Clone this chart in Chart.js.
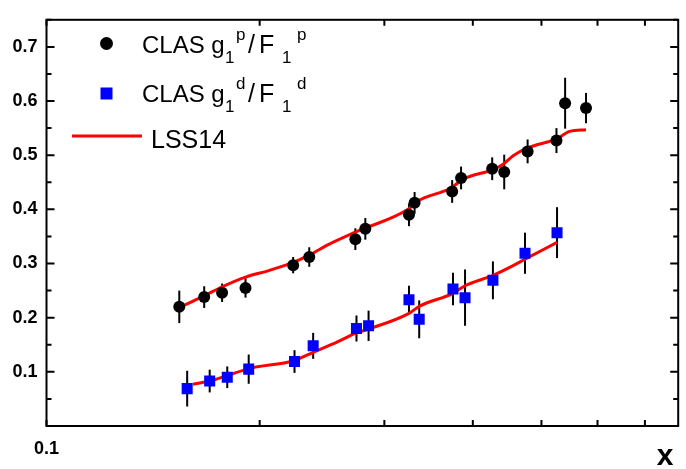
<!DOCTYPE html>
<html>
<head>
<meta charset="utf-8">
<script src="https://cdn.jsdelivr.net/npm/chart.js@4.4.0/dist/chart.umd.min.js"></script>
<style>
body { margin: 0; background: #fff; }
</style>
</head>
<body>
<canvas id="g1f1" width="686" height="469"></canvas>
<script>
// CLAS proton
var protonX = [0.154, 0.167, 0.177, 0.191, 0.223, 0.235, 0.273, 0.282, 0.325, 0.331, 0.374, 0.385, 0.426, 0.443, 0.478, 0.525, 0.540, 0.578];
var protonY = [0.220, 0.238, 0.246, 0.255, 0.297, 0.312, 0.345, 0.364, 0.390, 0.412, 0.433, 0.458, 0.475, 0.469, 0.507, 0.527, 0.596, 0.587];
var protonErr = [0.030, 0.020, 0.017, 0.018, 0.015, 0.018, 0.020, 0.020, 0.021, 0.020, 0.021, 0.021, 0.021, 0.032, 0.022, 0.023, 0.047, 0.028];

// CLAS deuteron
var deutX = [0.158, 0.170, 0.180, 0.193, 0.224, 0.238, 0.274, 0.285, 0.325, 0.336, 0.375, 0.390, 0.427, 0.474, 0.526];
var deutY = [0.069, 0.083, 0.090, 0.105, 0.119, 0.148, 0.180, 0.185, 0.233, 0.197, 0.253, 0.237, 0.269, 0.319, 0.357];
var deutErr = [0.033, 0.021, 0.020, 0.027, 0.021, 0.024, 0.024, 0.028, 0.026, 0.035, 0.030, 0.052, 0.035, 0.038, 0.047];

// LSS14 curves
var lssPX = [0.1565, 0.168, 0.177, 0.191, 0.206, 0.222, 0.236, 0.250, 0.274, 0.324, 0.334, 0.372, 0.388, 0.428, 0.442, 0.456, 0.479, 0.525, 0.548, 0.578];
var lssPY = [0.223, 0.242, 0.257, 0.275, 0.287, 0.301, 0.317, 0.335, 0.359, 0.400, 0.415, 0.439, 0.456, 0.474, 0.484, 0.499, 0.514, 0.530, 0.544, 0.547];
var lssDX = [0.161, 0.170, 0.180, 0.193, 0.224, 0.238, 0.258, 0.274, 0.285, 0.325, 0.336, 0.375, 0.390, 0.427, 0.456, 0.474, 0.526];
var lssDY = [0.077, 0.083, 0.093, 0.106, 0.121, 0.136, 0.156, 0.172, 0.179, 0.208, 0.221, 0.245, 0.259, 0.278, 0.296, 0.308, 0.339];

var xTicks = [0.1, 0.2, 0.3, 0.4, 0.5, 0.6, 0.7];
var yTicks = [0.1, 0.2, 0.3, 0.4, 0.5, 0.6, 0.7];
var yMinor = [0.05, 0.15, 0.25, 0.35, 0.45, 0.55, 0.65, 0.75];

var FONT = "'Liberation Sans', Arial, sans-serif";

function pts(xs, ys) {
    return xs.map(function(x, i) { return { x: x, y: ys[i] }; });
}

var errorBars = {
    id: 'errorBars',
    beforeDatasetsDraw: function(chart) {
        var ctx = chart.ctx, sx = chart.scales.x, sy = chart.scales.y;
        ctx.save();
        ctx.strokeStyle = '#000';
        ctx.lineWidth = 2;
        [[protonX, protonY, protonErr], [deutX, deutY, deutErr]].forEach(function(s) {
            for (var i = 0; i < s[0].length; i++) {
                var px = sx.getPixelForValue(s[0][i]);
                ctx.beginPath();
                ctx.moveTo(px, sy.getPixelForValue(s[1][i] - s[2][i]));
                ctx.lineTo(px, sy.getPixelForValue(s[1][i] + s[2][i]));
                ctx.stroke();
            }
        });
        ctx.restore();
    }
};

// text pieces: [text, size, x, baseline offset]
function rich(ctx, y, parts) {
    parts.forEach(function(p) {
        ctx.font = p[1] + 'px ' + FONT;
        ctx.fillText(p[0], p[2], y + p[3]);
    });
}

var frame = {
    id: 'frame',
    afterDatasetsDraw: function(chart) {
        var ctx = chart.ctx, a = chart.chartArea, sx = chart.scales.x, sy = chart.scales.y;
        ctx.save();
        ctx.strokeStyle = '#000';
        ctx.lineWidth = 2;
        ctx.strokeRect(a.left, a.top, a.right - a.left, a.bottom - a.top);
        ctx.beginPath();
        xTicks.forEach(function(v) {
            var px = sx.getPixelForValue(v);
            ctx.moveTo(px, a.bottom); ctx.lineTo(px, a.bottom - 6);
            ctx.moveTo(px, a.top); ctx.lineTo(px, a.top + 6);
        });
        yTicks.forEach(function(v) {
            var py = sy.getPixelForValue(v);
            ctx.moveTo(a.left, py); ctx.lineTo(a.left + 8, py);
            ctx.moveTo(a.right, py); ctx.lineTo(a.right - 8, py);
        });
        yMinor.forEach(function(v) {
            var py = sy.getPixelForValue(v);
            ctx.moveTo(a.left, py); ctx.lineTo(a.left + 5, py);
            ctx.moveTo(a.right, py); ctx.lineTo(a.right - 5, py);
        });
        ctx.stroke();

        // legend
        ctx.fillStyle = '#000';
        ctx.beginPath();
        ctx.arc(106.5, 43.5, 6.5, 0, Math.PI * 2);
        ctx.fill();
        ctx.fillStyle = '#0000ff';
        ctx.fillRect(100.5, 87.5, 12, 12);
        ctx.strokeStyle = '#ff0000';
        ctx.lineWidth = 3;
        ctx.beginPath();
        ctx.moveTo(72, 136); ctx.lineTo(142, 136);
        ctx.stroke();
        ctx.fillStyle = '#000';
        ctx.textAlign = 'left';
        ctx.textBaseline = 'alphabetic';
        rich(ctx, 53, [['CLAS g', 24, 142, 0], ['1', 17, 225, 10], ['p', 17, 236, -13], ['/', 25, 248, 0], ['F', 25, 259, 0], ['1', 17, 282, 10], ['p', 17, 297, -13]]);
        rich(ctx, 102, [['CLAS g', 24, 142, 0], ['1', 17, 225, 10], ['d', 17, 236, -13], ['/', 25, 248, 0], ['F', 25, 259, 0], ['1', 17, 282, 10], ['d', 17, 297, -13]]);
        rich(ctx, 148, [['LSS14', 25, 151, 0]]);

        // axis title
        ctx.font = 'bold 30px ' + FONT;
        ctx.textAlign = 'center';
        ctx.textBaseline = 'middle';
        ctx.fillText('x', 665, 457);
        ctx.restore();
    }
};

var chart = new Chart(document.getElementById('g1f1'), {
    type: 'scatter',
    data: {
        datasets: [{
            label: 'CLAS g1p/F1p',
            data: pts(protonX, protonY),
            pointStyle: 'circle',
            pointRadius: 6,
            backgroundColor: '#000',
            borderWidth: 0,
            order: 1
        }, {
            label: 'CLAS g1d/F1d',
            data: pts(deutX, deutY),
            pointStyle: 'rect',
            pointRadius: 7.8,
            backgroundColor: '#0000ff',
            borderWidth: 0,
            order: 1
        }, {
            label: 'LSS14',
            type: 'line',
            data: pts(lssPX, lssPY),
            borderColor: '#ff0000',
            borderWidth: 3,
            pointRadius: 0,
            cubicInterpolationMode: 'monotone',
            order: 3
        }, {
            label: 'LSS14 d',
            type: 'line',
            data: pts(lssDX, lssDY),
            borderColor: '#ff0000',
            borderWidth: 3,
            pointRadius: 0,
            cubicInterpolationMode: 'monotone',
            order: 3
        }]
    },
    options: {
        responsive: false,
        animation: false,
        devicePixelRatio: 1,
        layout: { padding: { top: 6, right: 3, left: 0, bottom: 0 } },
        plugins: { legend: { display: false }, tooltip: { enabled: false } },
        scales: {
            x: {
                type: 'logarithmic',
                min: 0.1,
                max: 0.78,
                grid: { display: false, drawTicks: false },
                border: { display: false },
                afterBuildTicks: function(s) { s.ticks = xTicks.map(function(v) { return { value: v }; }); },
                afterFit: function(s) { s.height = 43; },
                ticks: {
                    padding: 12,
                    color: '#000',
                    font: { family: FONT, size: 18, weight: 'bold' },
                    callback: function(v) { return Math.abs(v - 0.1) < 1e-6 ? '0.1' : ''; }
                }
            },
            y: {
                min: 0,
                max: 0.75,
                grid: { display: false, drawTicks: false },
                border: { display: false },
                afterBuildTicks: function(s) { s.ticks = yTicks.map(function(v) { return { value: v }; }); },
                afterFit: function(s) { s.width = 46.5; },
                ticks: {
                    padding: 9,
                    color: '#000',
                    font: { family: FONT, size: 18, weight: 'bold' },
                    callback: function(v) { return v.toFixed(1); }
                }
            }
        }
    },
    plugins: [errorBars, frame]
});
</script>
</body>
</html>
